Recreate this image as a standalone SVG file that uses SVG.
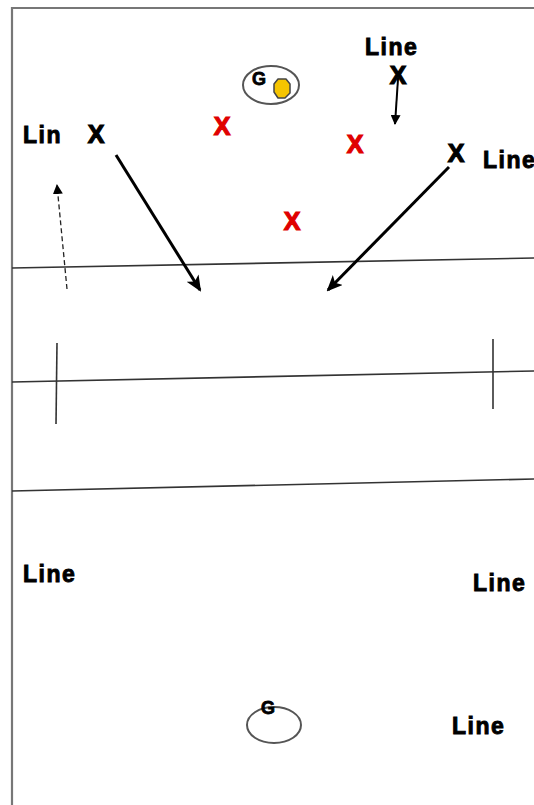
<svg xmlns="http://www.w3.org/2000/svg" width="534" height="805" viewBox="0 0 534 805">
<defs>
<style>
.lbl{font-family:"Liberation Sans",Arial,sans-serif;font-weight:bold;font-size:23px;letter-spacing:1.5px;fill:#000;stroke:#000;stroke-width:0.9px}
.px{font-family:"Liberation Sans",Arial,sans-serif;font-weight:bold;font-size:25px;text-anchor:middle;stroke-width:1.2px}
.g{font-family:"Liberation Sans",Arial,sans-serif;font-weight:bold;font-size:18px;fill:#000;stroke:#000;stroke-width:0.8px}
.field{stroke:#333;stroke-width:1.6;fill:none}
.arr{stroke:#000;stroke-width:3;fill:none;marker-end:url(#ah)}
</style>
<marker id="ah" markerUnits="userSpaceOnUse" markerWidth="16" markerHeight="14" refX="14" refY="7" orient="auto">
<path d="M0,0 L16,7 L0,14 L4,7 Z" fill="#000"/>
</marker>
<marker id="ahs" markerUnits="userSpaceOnUse" markerWidth="10" markerHeight="10" refX="9" refY="5" orient="auto">
<path d="M0,0 L10,5 L0,10 Z" fill="#000"/>
</marker>
</defs>
<rect width="534" height="805" fill="#fff"/>
<g id="field">
<path d="M12,805 L12,8 L534,8" stroke="#777" stroke-width="2.2" fill="none"/>
<line class="field" x1="12" y1="268" x2="534" y2="258"/>
<line class="field" x1="12" y1="382" x2="534" y2="371"/>
<line class="field" x1="12" y1="491" x2="534" y2="479"/>
<line class="field" x1="57" y1="343" x2="56" y2="424"/>
<line class="field" x1="493" y1="339" x2="493" y2="409"/>
</g>
<g id="goal-top">
<ellipse cx="271" cy="85" rx="28" ry="19" fill="#fff" stroke="#555" stroke-width="2"/>
<text class="g" x="252" y="85">G</text>
<polygon points="278,79 286,79 290,84 290,93 285,98 278,98 274,92 274,84" fill="#f5c400" stroke="#444" stroke-width="1.5" stroke-linejoin="round"/>
</g>
<g id="goal-bottom">
<ellipse cx="274" cy="725" rx="27" ry="18" fill="none" stroke="#555" stroke-width="2"/>
<text class="g" x="261" y="714">G</text>
</g>
<g id="label-top"><text class="lbl" x="365" y="55">Line</text></g>
<g id="label-lin"><text class="lbl" x="23" y="143">Lin</text></g>
<g id="label-right"><text class="lbl" x="483" y="168">Line</text></g>
<g id="label-bl"><text class="lbl" x="23" y="582">Line</text></g>
<g id="label-br"><text class="lbl" x="473" y="591">Line</text></g>
<g id="label-br2"><text class="lbl" x="452" y="734">Line</text></g>
<g id="player-top"><text class="px" x="398" y="84" fill="#000" stroke="#000">X</text></g>
<g id="player-left"><text class="px" x="96" y="143" fill="#000" stroke="#000">X</text></g>
<g id="player-right"><text class="px" x="456" y="162" fill="#000" stroke="#000">X</text></g>
<g id="defender-1"><text class="px" x="222" y="135" fill="#e00000" stroke="#e00000">X</text></g>
<g id="defender-2"><text class="px" x="355" y="153" fill="#e00000" stroke="#e00000">X</text></g>
<g id="defender-3"><text class="px" x="292" y="230" fill="#e00000" stroke="#e00000">X</text></g>
<g id="connectors">
<line class="arr" x1="116" y1="155" x2="200" y2="290"/>
<line class="arr" x1="449" y1="167" x2="328" y2="290"/>
<line x1="398" y1="79" x2="395" y2="124" stroke="#000" stroke-width="2" marker-end="url(#ahs)"/>
<line x1="67" y1="289" x2="57" y2="185" stroke="#222" stroke-width="1.3" stroke-dasharray="5,3" marker-end="url(#ahs)"/>
</g>
</svg>
